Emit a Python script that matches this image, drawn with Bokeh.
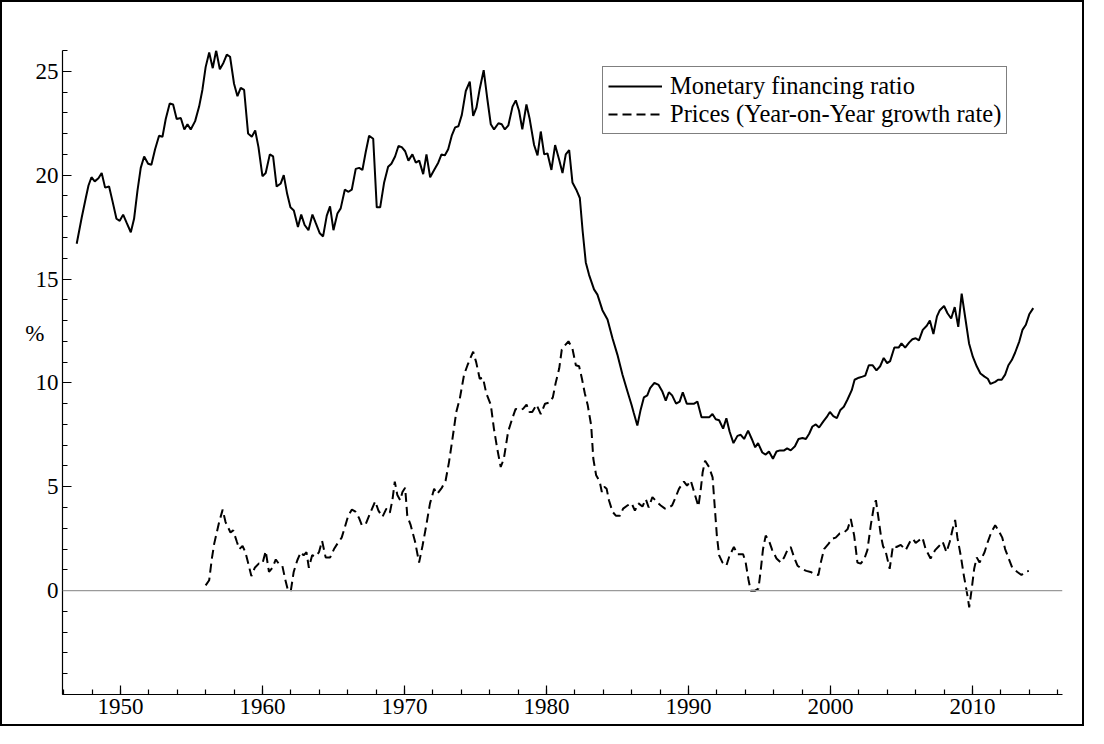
from bokeh.plotting import figure
from bokeh.models import (FixedTicker, Span, Legend, LegendItem, LinearAxis, Range1d)
from bokeh.embed import file_html
from bokeh.resources import INLINE

# ---- data ----
mfr_years = [1946.92, 1947.27, 1947.56, 1947.75, 1947.96, 1948.19, 1948.45, 1948.68, 1948.92, 1949.2,
             1949.44, 1949.72, 1949.95, 1950.19, 1950.44, 1950.73, 1950.96, 1951.2, 1951.43, 1951.67,
             1951.95, 1952.18, 1952.44, 1952.72, 1952.96, 1953.19, 1953.47, 1953.71, 1953.96, 1954.25,
             1954.5, 1954.72, 1954.95, 1955.26, 1955.54, 1955.77, 1956.0, 1956.25, 1956.5, 1956.74,
             1957.0, 1957.25, 1957.49, 1957.72, 1958.0, 1958.24, 1958.47, 1958.71, 1958.99, 1959.25,
             1959.49, 1959.72, 1960.0, 1960.23, 1960.52, 1960.75, 1961.0, 1961.29, 1961.5, 1961.74,
             1961.97, 1962.21, 1962.5, 1962.73, 1962.97, 1963.24, 1963.52, 1963.75, 1964.04, 1964.27,
             1964.53, 1964.76, 1965.0, 1965.28, 1965.51, 1965.8, 1966.06, 1966.29, 1966.57, 1966.81,
             1967.04, 1967.27, 1967.51, 1967.8, 1968.05, 1968.29, 1968.57, 1968.85, 1969.08, 1969.34,
             1969.58, 1969.81, 1970.05, 1970.28, 1970.56, 1970.8, 1971.04, 1971.32, 1971.55, 1971.81,
             1972.09, 1972.38, 1972.61, 1972.84, 1973.08, 1973.33, 1973.57, 1973.8, 1974.04, 1974.32,
             1974.6, 1974.84, 1975.07, 1975.3, 1975.58, 1975.82, 1976.08, 1976.31, 1976.62, 1976.85,
             1977.07, 1977.32, 1977.61, 1977.84, 1978.07, 1978.3, 1978.59, 1978.82, 1979.13, 1979.37,
             1979.6, 1979.84, 1980.07, 1980.35, 1980.61, 1980.89, 1981.13, 1981.36, 1981.6, 1981.83,
             1982.1, 1982.35, 1982.55, 1982.77, 1983.0, 1983.35, 1983.59, 1983.94, 1984.3, 1984.65,
             1985.0, 1985.35, 1985.7, 1985.99, 1986.15, 1986.4, 1986.63, 1986.86, 1987.1, 1987.3,
             1987.6, 1987.9, 1988.15, 1988.4, 1988.62, 1988.85, 1989.13, 1989.38, 1989.6, 1989.88,
             1990.16, 1990.4, 1990.63, 1990.92, 1991.18, 1991.46, 1991.69, 1991.92, 1992.16, 1992.44,
             1992.67, 1992.9, 1993.17, 1993.45, 1993.68, 1993.92, 1994.2, 1994.46, 1994.7, 1994.9,
             1995.2, 1995.44, 1995.67, 1995.95, 1996.2, 1996.45, 1996.74, 1996.95, 1997.2, 1997.5,
             1997.75, 1998.03, 1998.27, 1998.5, 1998.73, 1998.97, 1999.2, 1999.5, 1999.73, 1999.96,
             2000.2, 2000.45, 2000.7, 2000.94, 2001.2, 2001.5, 2001.7, 2002.0, 2002.25, 2002.45,
             2002.7, 2002.96, 2003.24, 2003.5, 2003.75, 2003.99, 2004.2, 2004.5, 2004.8, 2005.0,
             2005.26, 2005.55, 2005.77, 2006.0, 2006.23, 2006.5, 2006.78, 2007.0, 2007.25, 2007.5,
             2007.7, 2008.0, 2008.24, 2008.5, 2008.75, 2009.0, 2009.24, 2009.5, 2009.76, 2010.03,
             2010.3, 2010.56, 2010.85, 2011.08, 2011.27, 2011.6, 2011.8, 2012.06, 2012.3, 2012.53,
             2012.77, 2013.0, 2013.3, 2013.52, 2013.76, 2014.0, 2014.28]
mfr_values = [16.7, 17.95, 18.9, 19.5, 19.9, 19.7, 19.85, 20.1, 19.4, 19.45,
              18.75, 17.9, 17.8, 18.1, 17.7, 17.25, 17.9, 19.25, 20.35, 20.9,
              20.55, 20.5, 21.25, 21.9, 21.85, 22.7, 23.45, 23.4, 22.7, 22.75,
              22.2, 22.45, 22.2, 22.6, 23.3, 24.1, 25.2, 25.9, 25.15, 26.0,
              25.1, 25.4, 25.8, 25.7, 24.4, 23.8, 24.2, 24.1, 22.0, 21.85,
              22.15, 21.35, 19.95, 20.1, 21.0, 20.9, 19.45, 19.6, 20.0, 19.1,
              18.45, 18.3, 17.5, 18.1, 17.6, 17.35, 18.1, 17.7, 17.2, 17.05,
              18.05, 18.5, 17.35, 18.15, 18.4, 19.3, 19.2, 19.3, 20.3, 20.35,
              20.25, 21.1, 21.9, 21.75, 18.45, 18.45, 19.65, 20.4, 20.55, 20.9,
              21.4, 21.35, 21.15, 20.7, 21.0, 20.6, 20.7, 20.05, 21.0, 19.9,
              20.25, 20.6, 21.0, 20.95, 21.25, 21.9, 22.3, 22.35, 22.9, 24.05,
              24.5, 22.85, 23.25, 24.15, 25.05, 23.75, 22.45, 22.2, 22.5, 22.45,
              22.2, 22.4, 23.3, 23.6, 23.1, 22.2, 23.4, 22.7, 21.45, 20.95,
              22.1, 21.0, 21.05, 20.25, 21.45, 20.75, 20.1, 21.0, 21.2, 19.65,
              19.3, 18.9, 17.3, 15.8, 15.2, 14.5, 14.25, 13.5, 13.05, 12.15,
              11.35, 10.4, 9.6, 8.95, 8.55, 7.95, 8.7, 9.3, 9.4, 9.75,
              10.0, 9.9, 9.6, 9.15, 9.55, 9.4, 9.0, 9.1, 9.55, 9.0,
              9.0, 9.0, 9.1, 8.35, 8.35, 8.35, 8.5, 8.25, 8.2, 7.8,
              8.3, 7.65, 7.1, 7.45, 7.5, 7.3, 7.7, 7.3, 6.9, 7.1,
              6.65, 6.55, 6.7, 6.35, 6.7, 6.75, 6.75, 6.85, 6.75, 6.95,
              7.3, 7.35, 7.3, 7.55, 7.9, 8.0, 7.85, 8.15, 8.35, 8.6,
              8.4, 8.3, 8.7, 8.85, 9.2, 9.65, 10.15, 10.25, 10.3, 10.35,
              10.85, 10.85, 10.6, 10.8, 11.2, 10.95, 11.05, 11.7, 11.7, 11.9,
              11.7, 11.95, 12.1, 12.15, 12.05, 12.55, 12.75, 13.0, 12.35, 13.2,
              13.5, 13.7, 13.35, 13.1, 13.65, 12.7, 14.3, 13.1, 11.9, 11.25,
              10.8, 10.45, 10.3, 10.2, 9.95, 10.05, 10.15, 10.15, 10.4, 10.85,
              11.1, 11.45, 12.0, 12.55, 12.8, 13.3, 13.6]

cpi_years = [1956.0, 1956.25, 1956.43, 1956.6, 1956.95, 1957.2, 1957.4, 1957.75, 1957.94, 1958.2,
             1958.37, 1958.6, 1958.8, 1959.04, 1959.22, 1959.46, 1959.74, 1960.0, 1960.23, 1960.46,
             1960.7, 1960.94, 1961.15, 1961.4, 1961.6, 1961.8, 1962.0, 1962.2, 1962.45, 1962.7,
             1962.9, 1963.1, 1963.27, 1963.5, 1963.75, 1963.98, 1964.2, 1964.45, 1964.77, 1965.04,
             1965.27, 1965.58, 1965.8, 1966.04, 1966.3, 1966.55, 1966.8, 1967.0, 1967.27, 1967.63,
             1967.94, 1968.17, 1968.45, 1968.73, 1968.97, 1969.15, 1969.32, 1969.5, 1969.7, 1969.86,
             1970.05, 1970.2, 1970.44, 1970.75, 1971.03, 1971.27, 1971.5, 1971.8, 1972.09, 1972.3,
             1972.63, 1972.9, 1973.14, 1973.38, 1973.65, 1973.9, 1974.2, 1974.44, 1974.68, 1974.84,
             1975.05, 1975.3, 1975.53, 1975.76, 1976.08, 1976.3, 1976.53, 1976.78, 1977.0, 1977.3,
             1977.6, 1977.83, 1978.06, 1978.35, 1978.6, 1978.8, 1979.0, 1979.3, 1979.6, 1979.9,
             1980.2, 1980.45, 1980.65, 1980.9, 1981.08, 1981.23, 1981.55, 1981.83, 1982.07, 1982.3,
             1982.5, 1982.7, 1982.9, 1983.15, 1983.3, 1983.5, 1983.75, 1983.9, 1984.07, 1984.24,
             1984.4, 1984.65, 1984.9, 1985.17, 1985.4, 1985.7, 1986.0, 1986.23, 1986.48, 1986.76,
             1987.0, 1987.2, 1987.46, 1987.8, 1988.05, 1988.35, 1988.62, 1988.85, 1989.1, 1989.33,
             1989.68, 1989.9, 1990.16, 1990.4, 1990.7, 1990.87, 1991.0, 1991.17, 1991.45, 1991.7,
             1991.86, 1992.0, 1992.16, 1992.4, 1992.67, 1992.9, 1993.2, 1993.45, 1993.85, 1994.03,
             1994.22, 1994.38, 1994.7, 1994.93, 1995.1, 1995.25, 1995.44, 1995.67, 1995.9, 1996.2,
             1996.5, 1996.74, 1996.97, 1997.2, 1997.44, 1997.68, 1997.98, 1998.3, 1998.6, 1998.85,
             1999.15, 1999.32, 1999.55, 1999.86, 2000.14, 2000.37, 2000.65, 2000.96, 2001.2, 2001.43,
             2001.67, 2001.9, 2002.13, 2002.37, 2002.6, 2002.84, 2003.07, 2003.2, 2003.4, 2003.55,
             2003.7, 2003.9, 2004.17, 2004.4, 2004.65, 2004.95, 2005.3, 2005.6, 2005.8, 2006.0,
             2006.2, 2006.48, 2006.7, 2007.05, 2007.37, 2007.65, 2007.9, 2008.17, 2008.4, 2008.6,
             2008.78, 2008.94, 2009.17, 2009.4, 2009.65, 2009.77, 2009.95, 2010.12, 2010.3, 2010.5,
             2010.85, 2011.08, 2011.32, 2011.6, 2011.83, 2012.1, 2012.3, 2012.55, 2012.8, 2013.16,
             2013.45, 2013.7, 2013.97]
cpi_values = [0.25, 0.5, 1.5, 2.25, 3.3, 3.9, 3.3, 2.8, 2.9, 2.35,
              2.0, 2.15, 1.85, 1.2, 0.7, 1.1, 1.3, 1.3, 1.9, 0.9,
              1.1, 1.5, 1.3, 1.2, 0.55, 0.0, 0.0, 0.9, 1.45, 1.85,
              1.7, 1.85, 1.1, 1.7, 1.65, 1.85, 2.4, 1.6, 1.6, 2.0,
              2.25, 2.55, 3.05, 3.6, 3.9, 3.8, 3.5, 3.15, 3.2, 3.8,
              4.3, 3.85, 3.55, 3.95, 3.75, 4.35, 5.25, 4.6, 4.35, 4.75,
              4.95, 3.6, 3.15, 2.35, 1.35, 2.15, 3.0, 4.2, 4.9, 4.65,
              4.95, 5.3, 6.2, 7.3, 8.6, 9.25, 10.4, 10.85, 11.25, 11.5,
              11.0, 10.2, 10.25, 9.5, 8.95, 7.8, 6.85, 5.95, 6.35, 7.65,
              8.3, 8.75, 8.7, 8.75, 8.95, 8.6, 8.6, 8.95, 8.5, 9.0,
              9.05, 9.3, 10.0, 10.7, 11.6, 11.75, 12.0, 11.65, 10.85, 10.8,
              10.2, 9.5, 8.95, 7.95, 6.35, 5.55, 5.25, 4.75, 5.0, 4.9,
              4.35, 3.8, 3.6, 3.6, 3.95, 4.1, 4.2, 3.85, 4.2, 4.05,
              4.4, 4.0, 4.5, 4.25, 4.1, 3.95, 4.0, 4.1, 4.5, 4.9,
              5.25, 5.05, 5.3, 4.75, 4.05, 4.9, 5.7, 6.25, 5.95, 5.45,
              3.95, 2.65, 1.7, 1.35, 1.2, 1.7, 2.1, 1.75, 1.75, 1.35,
              0.55, 0.0, 0.0, 0.1, 1.05, 2.0, 2.65, 2.4, 1.95, 1.55,
              1.35, 1.6, 1.95, 2.1, 1.6, 1.2, 1.05, 0.95, 0.9, 0.8,
              0.75, 1.35, 2.0, 2.25, 2.5, 2.55, 2.75, 2.8, 2.95, 3.45,
              2.65, 1.35, 1.3, 1.5, 1.95, 3.15, 4.1, 4.35, 3.4, 2.65,
              2.15, 1.85, 1.05, 2.15, 2.1, 2.2, 1.95, 2.35, 2.5, 2.3,
              2.4, 2.55, 2.0, 1.55, 1.95, 2.15, 2.35, 1.85, 2.35, 2.95,
              3.4, 2.55, 1.7, 0.7, -0.25, -0.8, 0.1, 1.05, 1.6, 1.35,
              1.85, 2.35, 2.8, 3.15, 2.9, 2.55, 2.0, 1.55, 1.1, 0.9,
              0.75, 0.9, 0.95]

x_major = [1950, 1960, 1970, 1980, 1990, 2000, 2010]
x_minor = list(range(1946, 2017, 2))
y_major = [0, 5, 10, 15, 20, 25]
y_minor = list(range(-5, 27))
series_names = ["Monetary financing ratio", "Prices (Year-on-Year growth rate)"]
y_title = "%"
y_title_at = 12.4

FONT = "Liberation Serif"
FS_TICK = "23px"
FS_LEG = "24.5px"

p = figure(width=1084, height=726, output_backend="svg", toolbar_location=None,
           x_range=Range1d(1945.92, 2016.34), y_range=Range1d(-5.0, 26.0),
           min_border_left=60, min_border_right=24, min_border_top=48, min_border_bottom=34)
p.styles = {"border": "2px solid black"}
p.outline_line_color = None
p.grid.visible = False
p.background_fill_color = "white"
p.border_fill_color = "white"

for ax, major, minor in ((p.xaxis[0], x_major, x_minor), (p.yaxis[0], y_major, y_minor)):
    ax.ticker = FixedTicker(ticks=major, minor_ticks=minor)
    ax.major_tick_in = 9
    ax.major_tick_out = 0
    ax.minor_tick_in = 5
    ax.minor_tick_out = 0
    ax.axis_line_color = "black"
    ax.axis_line_width = 1.2
    ax.major_tick_line_width = 1.2
    ax.minor_tick_line_width = 1.2
    ax.major_label_text_font = FONT
    ax.major_label_text_font_size = FS_TICK
    ax.major_label_text_color = "black"

p.xaxis[0].major_label_standoff = 4
p.yaxis[0].major_label_standoff = 4

# "%" shown as the single label of an extra, otherwise invisible left axis
pct_axis = LinearAxis(ticker=FixedTicker(ticks=[y_title_at], minor_ticks=[]),
                      major_label_overrides={y_title_at: y_title},
                      axis_line_color=None, major_tick_line_color=None,
                      minor_tick_line_color=None, major_tick_in=0, major_tick_out=0,
                      major_label_standoff=-12, major_label_text_font=FONT,
                      major_label_text_font_size=FS_TICK, major_label_text_color="black")
p.add_layout(pct_axis, "left")

zero = Span(location=0, dimension="width", line_color="#9a9a9a", line_width=1.2)
p.add_layout(zero)

r1 = p.line(mfr_years, mfr_values, line_color="black", line_width=2)
r2 = p.line(cpi_years, cpi_values, line_color="black", line_width=2, line_dash="9 5")

legend = Legend(items=[LegendItem(label=series_names[0], renderers=[r1]),
                       LegendItem(label=series_names[1], renderers=[r2])],
                location=(540, 560), border_line_color="black", border_line_width=1.2,
                background_fill_color="white", background_fill_alpha=1.0,
                label_text_font=FONT, label_text_font_size=FS_LEG, label_text_color="black",
                glyph_width=54, glyph_height=26, label_height=26, label_standoff=8,
                spacing=0, padding=5, margin=0)
p.add_layout(legend)

open("out.html", "w").write(file_html(p, INLINE))
